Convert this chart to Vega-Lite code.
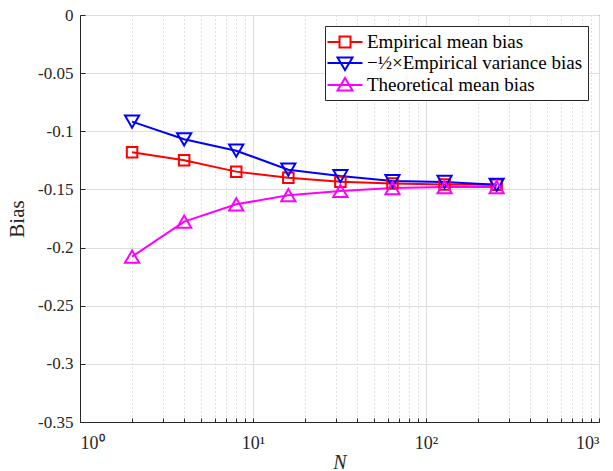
{
  "$schema": "https://vega.github.io/schema/vega-lite/v6.json",
  "autosize": "none",
  "width": 519,
  "height": 407,
  "padding": {"left": 80, "top": 15, "right": 14, "bottom": 49},
  "background": "white",
  "config": {
    "font": "Liberation Serif",
    "view": {"stroke": "#262626", "strokeWidth": 1},
    "style": {
      "guide-label": {"font": "Liberation Serif"},
      "guide-title": {"font": "Liberation Serif"}
    },
    "axis": {
      "labelFont": "Liberation Serif",
      "titleFont": "Liberation Serif",
      "labelColor": "#262626",
      "titleColor": "#262626",
      "domainColor": "#262626",
      "tickColor": "#262626",
      "labelFontSize": 17,
      "titleFontSize": 20,
      "titleFontWeight": "normal"
    }
  },
  "data": {
    "values": [
      {"N": 2, "series": "Empirical mean bias", "bias": -0.118},
      {"N": 4, "series": "Empirical mean bias", "bias": -0.125},
      {"N": 8, "series": "Empirical mean bias", "bias": -0.1347},
      {"N": 16, "series": "Empirical mean bias", "bias": -0.140},
      {"N": 32, "series": "Empirical mean bias", "bias": -0.1435},
      {"N": 64, "series": "Empirical mean bias", "bias": -0.145},
      {"N": 128, "series": "Empirical mean bias", "bias": -0.1458},
      {"N": 256, "series": "Empirical mean bias", "bias": -0.146},
      {"N": 2, "series": "−½×Empirical variance bias", "bias": -0.0917},
      {"N": 4, "series": "−½×Empirical variance bias", "bias": -0.1069},
      {"N": 8, "series": "−½×Empirical variance bias", "bias": -0.1167},
      {"N": 16, "series": "−½×Empirical variance bias", "bias": -0.133},
      {"N": 32, "series": "−½×Empirical variance bias", "bias": -0.1385},
      {"N": 64, "series": "−½×Empirical variance bias", "bias": -0.1428},
      {"N": 128, "series": "−½×Empirical variance bias", "bias": -0.1436},
      {"N": 256, "series": "−½×Empirical variance bias", "bias": -0.146},
      {"N": 2, "series": "Theoretical mean bias", "bias": -0.2078},
      {"N": 4, "series": "Theoretical mean bias", "bias": -0.1777},
      {"N": 8, "series": "Theoretical mean bias", "bias": -0.1628},
      {"N": 16, "series": "Theoretical mean bias", "bias": -0.155},
      {"N": 32, "series": "Theoretical mean bias", "bias": -0.1513},
      {"N": 64, "series": "Theoretical mean bias", "bias": -0.1488},
      {"N": 128, "series": "Theoretical mean bias", "bias": -0.148},
      {"N": 256, "series": "Theoretical mean bias", "bias": -0.148}
    ]
  },
  "encoding": {
    "x": {
      "field": "N", "type": "quantitative",
      "scale": {"type": "log", "domain": [1, 1000], "nice": false},
      "axis": {
        "title": "N",
        "titleFont": "Liberation Serif",
        "labelFont": "Liberation Serif",
        "labelFontSize": 18,
        "titleFontStyle": "italic",
        "titlePadding": 0,
        "ticks": true,
        "tickSize": -4,
        "labelPadding": 16,
        "labelOverlap": false,
        "labelBound": false,
        "values": [1,2,3,4,5,6,7,8,9,10,20,30,40,50,60,70,80,90,100,200,300,400,500,600,700,800,900,1000],
        "labelExpr": "datum.value == 1 ? '10⁰' : datum.value == 10 ? '10¹' : datum.value == 100 ? '10²' : datum.value == 1000 ? '10³' : ''",
        "grid": true,
        "gridColor": {"condition": {"test": "indexof([1,10,100,1000], datum.value) >= 0", "value": "#dedede"}, "value": "#c4c4c4"},
        "gridDash": {"condition": {"test": "indexof([1,10,100,1000], datum.value) >= 0", "value": []}, "value": [1, 3]}
      }
    },
    "y": {
      "field": "bias", "type": "quantitative",
      "scale": {"domain": [-0.35, 0], "nice": false, "zero": false},
      "axis": {
        "title": "Bias",
        "titleFont": "Liberation Serif",
        "labelFont": "Liberation Serif",
        "titleFontSize": 21,
        "titlePadding": 10,
        "ticks": true,
        "tickSize": -5,
        "labelPadding": 12,
        "values": [-0.35, -0.3, -0.25, -0.2, -0.15, -0.1, -0.05, 0],
        "labelExpr": "datum.value == 0 ? '0' : '' + datum.value",
        "grid": true,
        "gridColor": "#dedede"
      }
    }
  },
  "layer": [
    {
      "mark": {"type": "line", "strokeWidth": 2},
      "encoding": {
        "color": {
          "field": "series", "type": "nominal",
          "scale": {
            "domain": ["Empirical mean bias", "−½×Empirical variance bias", "Theoretical mean bias"],
            "range": ["#ff0000", "#0000ff", "#ff00ff"]
          },
          "legend": {
            "title": null,
            "orient": "top-right",
            "offset": 11,
            "padding": 5,
            "strokeColor": "#262626",
            "fillColor": "white",
            "cornerRadius": 0,
            "labelFont": "Liberation Serif",
            "labelFontSize": 19,
            "labelColor": "#000000",
            "labelLimit": 400,
            "symbolSize": 400,
            "symbolStrokeWidth": 2,
            "symbolOffset": 4,
            "labelOffset": 11,
            "rowPadding": 0,
            "encode": {
              "symbols": {
                "update": {
                  "shape": {"signal": "datum.value == 'Empirical mean bias' ? 'M-1.75,0H-0.55M0.55,0H1.75M-0.55,-0.55H0.55V0.55H-0.55Z' : datum.value == 'Theoretical mean bias' ? 'M-1.75,0H1.75M-0.75,0.55H0.75L0,-0.7Z' : 'M-1.75,0H1.75M-0.75,-0.55H0.75L0,0.7Z'"},
                  "fill": {"value": "transparent"},
                  "strokeWidth": {"value": 2}
                }
              }
            }
          }
        }
      }
    },
    {
      "transform": [{"filter": "datum.series == 'Empirical mean bias'"}],
      "mark": {"type": "point", "shape": "square", "filled": false, "strokeWidth": 2, "size": 110, "opacity": 1, "stroke": "#ff0000"}
    },
    {
      "transform": [{"filter": "datum.series == '−½×Empirical variance bias'"}],
      "mark": {"type": "point", "shape": "triangle-down", "filled": false, "strokeWidth": 2, "size": 200, "opacity": 1, "stroke": "#0000ff"}
    },
    {
      "transform": [{"filter": "datum.series == 'Theoretical mean bias'"}],
      "mark": {"type": "point", "shape": "triangle-up", "filled": false, "strokeWidth": 2, "size": 200, "opacity": 1, "stroke": "#ff00ff"}
    }
  ]
}
